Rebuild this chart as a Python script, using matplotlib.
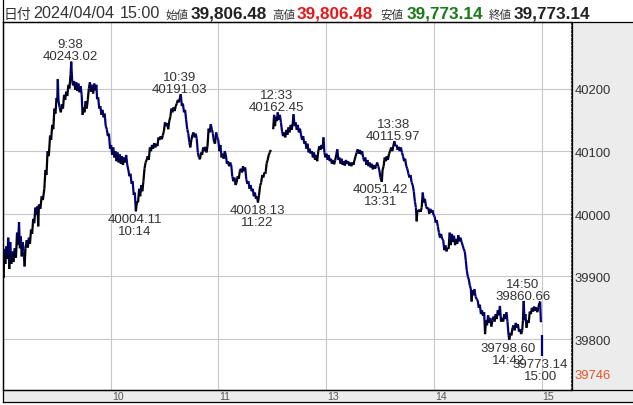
import matplotlib
matplotlib.use("Agg")
import matplotlib.pyplot as plt
from matplotlib.collections import LineCollection
from matplotlib.patches import Rectangle
from matplotlib.lines import Line2D

W, H = 633, 406

# ---------------- data ----------------
trade_date = "2024/04/04"
trade_time = "15:00"
ohlc_names = ["始値", "高値", "安値", "終値"]
ohlc_vals = [39806.48, 39806.48, 39773.14, 39773.14]

# morning session path (trading minutes from 9:00, price)
am_t = [0, 0.3, 0.7, 1.3, 1.8, 2.4, 2.9, 3.5, 4.0, 4.6, 5.2, 5.8, 6.5, 7.2, 7.8, 8.4, 8.9, 9.4, 9.9, 10.4,
        10.9, 11.5, 12.0, 12.5, 13.2, 13.8, 14.4, 15.0, 15.6, 16.2, 16.8, 17.4, 18.0, 18.6, 19.2, 19.6, 20.0,
        20.8, 21.5, 22.2, 23.0, 23.6, 24.2, 24.8, 25.5, 26.2, 26.8, 27.4, 28.0, 28.6, 29.2, 29.8, 30.2, 30.5,
        30.9, 31.5, 32.2, 32.8, 33.4, 34.0, 34.6, 35.2, 35.8, 36.4, 37.0, 37.6, 38.0, 38.5, 39.0, 39.6, 40.2,
        40.8, 41.4, 42.0, 42.6, 43.2, 43.8, 44.3, 44.8, 45.4, 46.0, 46.6, 47.2, 47.8, 48.4, 49.0, 49.6, 50.2,
        50.8, 51.4, 52.0, 52.4, 53.0, 53.6, 54.2, 54.8, 55.4, 56.0, 56.6, 57.2, 57.8, 58.4, 59.0, 59.6, 60.2,
        60.8, 61.4, 62.0, 62.6, 63.2, 63.8, 64.4, 65.0, 65.6, 66.2, 66.8, 67.4, 68.0, 68.6, 69.2, 69.8, 70.4,
        71.0, 71.6, 72.2, 72.8, 73.4, 74.0, 74.6, 75.2, 75.8, 76.4, 77.0, 77.6, 78.2, 78.8, 79.4, 80.0, 80.6,
        81.2, 81.8, 82.4, 83.0, 83.6, 84.2, 84.8, 85.4, 86.0, 86.6, 87.2, 87.8, 88.4, 89.0, 89.6, 90.2, 90.8,
        91.4, 92.0, 92.6, 93.2, 93.8, 94.4, 95.0, 95.6, 96.2, 96.8, 97.4, 98.0, 98.6, 99.0, 99.6, 100.2, 100.8,
        101.4, 102.0, 102.6, 103.2, 103.8, 104.3, 104.9, 105.5, 106.1, 106.7, 107.3, 107.9, 108.5, 109.1,
        109.7, 110.3, 110.9, 111.5, 112.1, 112.7, 113.3, 113.9, 114.5, 115.1, 115.7, 116.3, 116.9, 117.5,
        118.1, 118.7, 119.3, 119.9, 120.5, 121.1, 121.7, 122.3, 122.9, 123.5, 124.1, 124.7, 125.3, 125.9,
        126.5, 127.1, 127.7, 128.3, 128.9, 129.5, 130.1, 130.7, 131.3, 131.9, 132.5, 133.1, 133.7, 134.3,
        134.9, 135.5, 136.1, 136.7, 137.3, 137.9, 138.5, 139.1, 139.7, 140.3, 140.9, 141.5, 142.0, 142.6,
        143.2, 143.8, 144.4, 145.0, 145.6, 146.2, 146.8, 147.4, 148.0, 148.6, 149.2]
am_p = [39925, 39898, 39944, 39920, 39948, 39928, 39962, 39912, 39955, 39920, 39940, 39923, 39945, 39930,
        39970, 39950, 39987, 39945, 39964, 39932, 39955, 39940, 39916, 39945, 39958, 39946, 39962, 39952,
        39975, 39968, 39992, 39985, 40010, 39998, 40012, 39980, 40015, 40008, 40028, 40022, 40040, 40070,
        40062, 40100, 40092, 40125, 40118, 40142, 40135, 40168, 40160, 40185, 40178, 40215, 40180, 40170,
        40162, 40175, 40168, 40190, 40182, 40195, 40188, 40206, 40200, 40222, 40243, 40212, 40205, 40212,
        40198, 40210, 40196, 40208, 40194, 40204, 40190, 40158, 40170, 40162, 40180, 40168, 40182, 40200,
        40210, 40195, 40206, 40192, 40208, 40197, 40206, 40183, 40186, 40168, 40172, 40158, 40166, 40154,
        40160, 40140, 40135, 40124, 40128, 40104, 40110, 40094, 40106, 40090, 40100, 40084, 40098, 40082,
        40095, 40080, 40092, 40078, 40090, 40082, 40094, 40078, 40070, 40060, 40064, 40048, 40052, 40030,
        40034, 40004, 40020, 40018, 40040, 40028, 40046, 40036, 40052, 40072, 40082, 40086, 40092, 40086,
        40106, 40100, 40110, 40104, 40113, 40106, 40112, 40108, 40122, 40118, 40124, 40119, 40125, 40132,
        40146, 40140, 40145, 40135, 40148, 40155, 40168, 40162, 40170, 40164, 40172, 40176, 40182, 40178,
        40186, 40191, 40172, 40176, 40162, 40166, 40150, 40135, 40128, 40114, 40106, 40118, 40126, 40130,
        40122, 40128, 40120, 40098, 40090, 40087, 40098, 40094, 40106, 40100, 40107, 40098, 40108, 40136,
        40130, 40143, 40135, 40128, 40115, 40112, 40130, 40122, 40118, 40100, 40110, 40090, 40096, 40088,
        40100, 40094, 40080, 40084, 40076, 40082, 40078, 40060, 40052, 40058, 40046, 40050, 40060, 40056,
        40068, 40072, 40066, 40076, 40068, 40074, 40055, 40048, 40052, 40040, 40046, 40036, 40040, 40028,
        40034, 40024, 40028, 40018, 40030, 40045, 40050, 40062, 40058, 40066, 40064, 40080, 40086, 40094,
        40098, 40102]

# afternoon session path (12:30 = minute 150)
pm_t = [150.5, 151.0, 151.5, 152.0, 152.6, 153.0, 153.6, 154.2, 154.8, 155.4, 156.0, 156.6, 157.2, 157.8,
        158.4, 159.0, 159.6, 160.2, 160.8, 161.4, 161.8, 162.4, 163.0, 163.6, 164.2, 164.8, 165.4, 166.0,
        166.6, 167.2, 167.8, 168.4, 169.0, 169.6, 170.2, 170.8, 171.4, 172.0, 172.6, 173.2, 173.8, 174.4,
        175.0, 175.6, 176.2, 176.8, 177.4, 178.0, 178.5, 179.0, 179.6, 180.2, 180.8, 181.4, 182.0, 182.6,
        183.2, 183.8, 184.4, 185.0, 185.6, 186.2, 186.8, 187.4, 188.0, 188.6, 189.2, 189.8, 190.4, 191.0,
        191.6, 192.2, 192.8, 193.4, 194.0, 194.6, 195.2, 195.8, 196.4, 197.0, 197.6, 198.2, 198.8, 199.4,
        200.0, 200.6, 201.2, 201.8, 202.4, 203.0, 203.6, 204.2, 204.8, 205.4, 206.0, 206.6, 207.2, 207.8,
        208.4, 209.0, 209.6, 210.2, 211.0, 211.4, 212.0, 212.6, 213.2, 213.8, 214.4, 215.0, 215.6, 216.2,
        216.8, 217.4, 218.0, 218.6, 219.2, 219.8, 220.4, 221.0, 221.6, 222.2, 222.8, 223.4, 224.0, 224.6,
        225.2, 225.8, 226.4, 227.0, 227.6, 228.2, 228.8, 229.4, 230.0, 230.4, 230.8, 231.4, 232.0, 232.6,
        233.2, 233.8, 234.4, 235.0, 235.6, 236.2, 236.8, 237.4, 238.0, 238.6, 239.2, 239.8, 240.4, 241.0,
        241.6, 242.2, 242.8, 243.4, 244.0, 244.6, 245.2, 245.8, 246.4, 247.0, 247.6, 248.2, 248.8, 249.4,
        250.0, 250.6, 251.2, 251.8, 252.4, 253.0, 253.6, 254.2, 254.8, 255.4, 256.0, 256.6, 257.2, 257.8,
        258.3, 258.9, 259.4, 260.0, 260.6, 261.0, 261.4, 262.0, 262.6, 263.2, 263.8, 264.4, 265.0, 265.6,
        266.2, 266.8, 267.4, 268.0, 268.5, 269.0, 269.6, 270.2, 270.8, 271.4, 272.0, 272.6, 273.2, 273.8,
        274.4, 275.0, 275.6, 276.2, 276.8, 277.4, 278.0, 278.6, 279.2, 279.8, 280.4, 281.0, 281.6, 282.0,
        282.6, 283.2, 283.8, 284.4, 285.0, 285.6, 286.2, 286.8, 287.4, 288.0, 288.6, 289.2, 289.6, 290.0,
        290.5, 291.0, 291.6, 292.2, 292.8, 293.4, 294.0, 294.6, 295.2, 295.8, 296.4, 297.0, 297.6, 298.2,
        298.8, 299.2, 299.6]
pm_p = [40135, 40158, 40140, 40155, 40148, 40162, 40150, 40158, 40146, 40132, 40124, 40130, 40122, 40134,
        40126, 40138, 40130, 40142, 40134, 40145, 40159, 40140, 40146, 40134, 40142, 40130, 40136, 40126,
        40118, 40124, 40112, 40116, 40104, 40112, 40098, 40104, 40096, 40100, 40090, 40098, 40086, 40094,
        40084, 40100, 40108, 40102, 40110, 40104, 40122, 40098, 40090, 40096, 40086, 40094, 40084, 40088,
        40080, 40086, 40079, 40085, 40094, 40103, 40086, 40090, 40080, 40088, 40078, 40084, 40077, 40086,
        40080, 40084, 40077, 40082, 40076, 40082, 40078, 40086, 40092, 40098, 40103, 40096, 40102, 40095,
        40100, 40090, 40084, 40090, 40078, 40086, 40076, 40082, 40074, 40080, 40071, 40078, 40072, 40076,
        40082, 40076, 40070, 40058, 40051, 40070, 40076, 40090, 40084, 40092, 40086, 40096, 40100, 40106,
        40100, 40108, 40116, 40108, 40110, 40102, 40107, 40100, 40106, 40098, 40092, 40084, 40088, 40076,
        40072, 40064, 40058, 40062, 40050, 40046, 40036, 40020, 40010, 39988, 40006, 40003, 40007, 40003,
        40010, 40034, 40018, 40024, 40012, 40008, 40010, 40000, 40008, 40002, 40006, 39998, 39996, 39986,
        39990, 39980, 39970, 39962, 39968, 39960, 39958, 39942, 39950, 39940, 39946, 39944, 39970, 39950,
        39968, 39955, 39965, 39950, 39960, 39952, 39966, 39956, 39962, 39955, 39950, 39944, 39940, 39925,
        39910, 39900, 39896, 39886, 39880, 39860, 39878, 39870, 39880, 39868, 39864, 39862, 39850, 39855,
        39840, 39846, 39837, 39843, 39808, 39830, 39822, 39838, 39826, 39834, 39820, 39830, 39836, 39828,
        39840, 39832, 39846, 39838, 39853, 39828, 39834, 39828, 39840, 39832, 39843, 39828, 39806, 39799,
        39810, 39806, 39818, 39822, 39814, 39826, 39818, 39824, 39812, 39816, 39808, 39814, 39830, 39861,
        39830, 39840, 39818, 39830, 39826, 39844, 39840, 39850, 39844, 39852, 39845, 39851, 39843, 39850,
        39858, 39860, 39827]

# closing auction bar at 15:00
close_t = 300
close_bar = [39806.48, 39773.14]

# labelled highs / lows
hi_t = [38, 99, 153, 218, 290]
hi_p = [40243.02, 40191.03, 40162.45, 40115.97, 39860.66]
hi_lbl = ["9:38", "10:39", "12:33", "13:38", "14:50"]
lo_t = [74, 142, 211, 282, 300]
lo_p = [40004.11, 40018.13, 40051.42, 39798.60, 39773.14]
lo_lbl = ["10:14", "11:22", "13:31", "14:42", "15:00"]

y_ticks = [39800, 39900, 40000, 40100, 40200]
x_ticks = [60, 120, 180, 240, 300]
x_labels = ["10", "11", "13", "14", "15"]
ref_price = 39746

# ---------------- figure ----------------
fig = plt.figure(figsize=(W / 100, H / 100), dpi=100)
fig.patch.set_facecolor("white")

def fx(x):
    return x / W

def fy(y):
    return 1 - y / H

LAT = ["Liberation Sans", "Noto Sans CJK JP"]
AX_L, AX_R, AX_T, AX_B = 2.5, 570.5, 22.5, 390.7

# background panels (drawn below everything)
fig.patches.append(Rectangle((fx(571.5), fy(AX_B)), fx(W) - fx(571.5), fy(AX_T) - fy(AX_B),
                             transform=fig.transFigure, facecolor="#ececec", edgecolor="none", zorder=-5))
fig.patches.append(Rectangle((fx(AX_L), fy(402.5)), fx(W) - fx(AX_L), fy(AX_B) - fy(402.5),
                             transform=fig.transFigure, facecolor="#ececec", edgecolor="none", zorder=-5))

ax = fig.add_axes([fx(AX_L), fy(AX_B), fx(AX_R) - fx(AX_L), fy(AX_T) - fy(AX_B)])
ax.set_zorder(1)
ax.set_facecolor("white")
ax.set_xlim(-0.3, 316.1)
ax.set_ylim(39719.3, 40307.0)
ax.set_xticks(x_ticks)
ax.set_yticks(y_ticks)
ax.grid(True, color="#c8c8c8", lw=0.8)
ax.set_axisbelow(True)
ax.tick_params(length=0, labelleft=False, labelbottom=False)
for s in ["left", "top", "bottom"]:
    ax.spines[s].set_color("black")
    ax.spines[s].set_linewidth(0.9)
ax.spines["right"].set_color("#444444")
ax.spines["right"].set_linewidth(0.8)
ax.spines["right"].set_linestyle((0, (2, 1.5)))


def draw_path(t, p):
    segs, cols = [], []
    for i in range(len(t) - 1):
        segs.append([(t[i], p[i]), (t[i + 1], p[i + 1])])
        cols.append("black" if p[i + 1] >= p[i] else "#000080")
    lc = LineCollection(segs, colors=cols, linewidths=1.6, capstyle="butt", joinstyle="miter", zorder=3)
    ax.add_collection(lc)


draw_path(am_t, am_p)
draw_path(pm_t, pm_p)
ax.plot([close_t, close_t], close_bar, color="#000080", lw=1.6, zorder=3, solid_capstyle="butt")

ann = dict(textcoords="offset pixels", fontsize=9.5, color="#333333", family=LAT,
           ha="center", va="baseline", annotation_clip=False, zorder=5)
for t, p, lb in zip(hi_t, hi_p, hi_lbl):
    ax.annotate(f"{p:.2f}", (t, p), xytext=(-1, 2.5), **ann)
    ax.annotate(lb, (t, p), xytext=(-1, 14.5), **ann)
for t, p, lb in zip(lo_t, lo_p, lo_lbl):
    ax.annotate(f"{p:.2f}", (t, p), xytext=(-1, -10.8), **ann)
    ax.annotate(lb, (t, p), xytext=(-1, -22.8), **ann)

# right axis labels
lab = dict(xycoords=("axes fraction", "data"), textcoords="offset pixels", fontsize=9.4,
           family=LAT, ha="left", va="baseline", annotation_clip=False, zorder=5)
for v in y_ticks:
    ax.annotate(str(v), (1.0, v), xytext=(4, -4.7), color="#333333", **lab)
ax.annotate(str(ref_price), (1.0, ref_price), xytext=(4, -4.7), color="#e0552b", **lab)

# bottom time labels
for t, lb in zip(x_ticks, x_labels):
    ax.annotate(lb, (t, 0), xycoords=("data", "axes fraction"), xytext=(1, -9.5),
                textcoords="offset pixels", fontsize=7.6, color="#555555", family=LAT,
                ha="left", va="baseline", annotation_clip=False, zorder=5)

# frame lines
for xs, ys in [([571.5, 571.5], [AX_T, AX_B]), ([AX_L, W], [AX_T, AX_T]), ([AX_L, W], [AX_B, AX_B]),
               ([AX_L, W], [402.5, 402.5]), ([AX_L, AX_L], [0, 402.5])]:
    fig.add_artist(Line2D([fx(x) for x in xs], [fy(y) for y in ys], color="black", lw=0.9, zorder=6))

# header
BASE = 18.5
def htext(x, s, size, color="#333333", weight="normal", family=LAT):
    fig.text(fx(x), fy(BASE), s, fontsize=size, color=color, fontweight=weight,
             family=family, ha="left", va="baseline")

htext(4, "日付", 10, family=["Noto Sans CJK JP"])
htext(33, trade_date, 11.6)
htext(120, trade_time, 11.6)
val_cols = ["#222222", "#e41a1c", "#1a7a1a", "#222222"]
name_x = [165, 272, 380, 489]
val_x = [191, 297, 407, 514]
for nm, v, c, nx, vx in zip(ohlc_names, ohlc_vals, val_cols, name_x, val_x):
    htext(nx, nm, 8.3, family=["Noto Sans CJK JP"])
    htext(vx, f"{v:,.2f}", 12.3, color=c, weight="bold")

fig.savefig("out.png", dpi=100, facecolor="white")
